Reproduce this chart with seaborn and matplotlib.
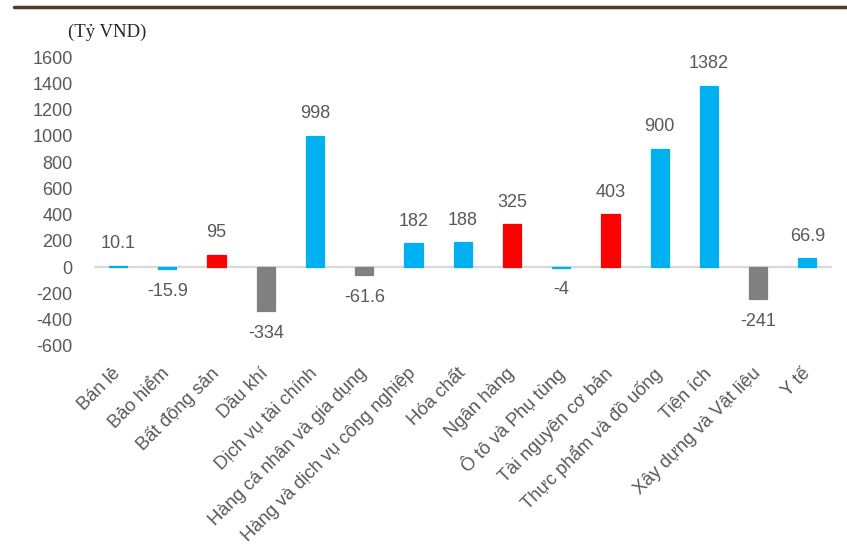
import matplotlib
matplotlib.use("Agg")
import matplotlib.pyplot as plt
from matplotlib.lines import Line2D
import seaborn as sns
import pandas as pd

sectors = [
    "Bán lẻ", "Bảo hiểm", "Bất động sản", "Dầu khí", "Dịch vụ tài chính",
    "Hàng cá nhân và gia dụng", "Hàng và dịch vụ công nghiệp", "Hóa chất",
    "Ngân hàng", "Ô tô và Phụ tùng", "Tài nguyên cơ bản",
    "Thực phẩm và đồ uống", "Tiện ích", "Xây dựng và Vật liệu", "Y tế",
]
values = [10.1, -15.9, 95, -334, 998, -61.6, 182, 188, 325, -4, 403, 900, 1382, -241, 66.9]
value_labels = ["10.1", "-15.9", "95", "-334", "998", "-61.6", "182", "188",
                "325", "-4", "403", "900", "1382", "-241", "66.9"]

BLUE, RED, GRAY = "#00B0F0", "#FF0000", "#808080"
bar_colors = [BLUE, BLUE, RED, GRAY, BLUE, GRAY, BLUE, BLUE,
              RED, BLUE, RED, BLUE, BLUE, GRAY, BLUE]

y_ticks = [-600, -400, -200, 0, 200, 400, 600, 800, 1000, 1200, 1400, 1600]

df = pd.DataFrame({"sector": sectors, "value": values})

sns.set_theme(style="white")
plt.rcParams["font.family"] = ["Liberation Sans", "DejaVu Sans"]

TEXT = "#595959"

fig = plt.figure(figsize=(8.47, 5.52), dpi=100)
ax = fig.add_axes([0.1104, 0.3732, 0.8719, 0.5235])

ax.axhline(0, color="#D9D9D9", lw=1.6, zorder=1)

sns.barplot(data=df, x="sector", y="value", hue="sector",
            palette=bar_colors, legend=False, width=0.37,
            saturation=1, ax=ax)

# keep the bars above the zero line, with a thin same-colour edge so tiny
# values stay visible
for patch in ax.patches:
    patch.set_zorder(3)
    patch.set_edgecolor(patch.get_facecolor())
    patch.set_linewidth(0.9)

ax.set_xlim(-0.5, len(sectors) - 0.5)
ax.set_ylim(-600, 1600)
ax.set_yticks(y_ticks)
ax.set_yticklabels([str(t) for t in y_ticks])
ax.tick_params(axis="y", length=0, pad=15, labelsize=13, labelcolor=TEXT)
ax.tick_params(axis="x", length=0, pad=18, labelsize=13.3, labelcolor=TEXT)
ax.set_xlabel("")
ax.set_ylabel("")
for lbl in ax.get_xticklabels():
    lbl.set_rotation(45)
    lbl.set_ha("right")
    lbl.set_va("center")
    lbl.set_rotation_mode("anchor")

for s in ax.spines.values():
    s.set_visible(False)

for i, (v, t) in enumerate(zip(values, value_labels)):
    off = 16 if v >= 0 else -16
    ax.annotate(t, (i, v), xytext=(0, off), textcoords="offset points",
                ha="center", va="center", fontsize=13, color=TEXT)

fig.text(68 / 847, 0.942, "(Tỷ VND)", fontsize=13.5, color="#262626",
         family=["Liberation Serif", "DejaVu Serif"], ha="left", va="center")

fig.add_artist(Line2D([14 / 847, 1.0], [1 - 7 / 552, 1 - 7 / 552],
                      transform=fig.transFigure, color="#4E3B2A", lw=2.5))

fig.savefig("out.png", dpi=100)
